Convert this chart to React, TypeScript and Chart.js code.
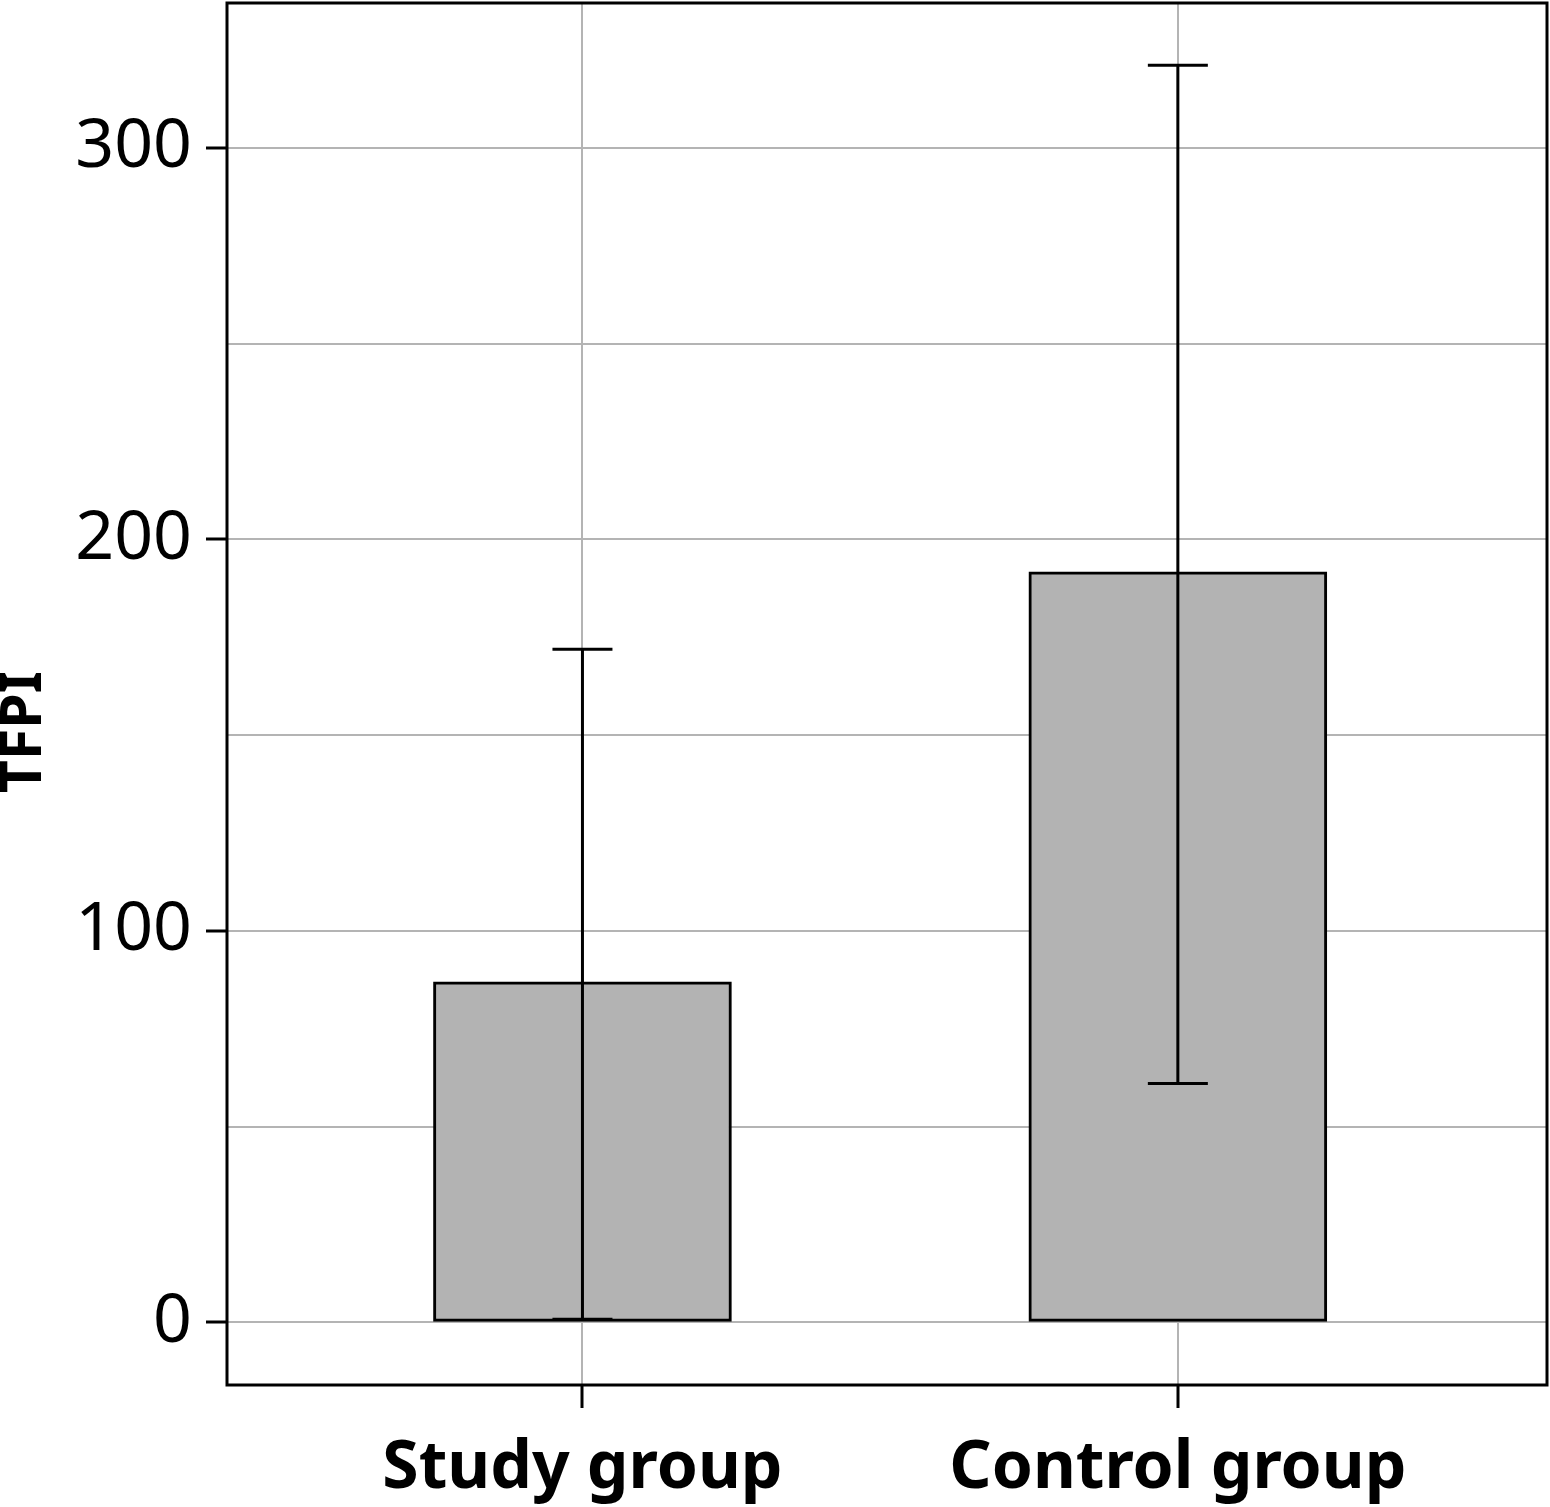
import React, { useEffect, useRef } from "react";
import { Chart, registerables } from "chart.js";

Chart.register(...registerables);

const categories = ["Study group", "Control group"];
const positions = [1, 2];
const means = [87.0, 191.7];
const errLow = [0.8, 61.0];
const errHigh = [171.9, 321.1];
const yTicksLabeled = [0, 100, 200, 300];
const yTitle = "TFPI";

const errorBarPlugin = {
  id: "errorBars",
  afterDatasetsDraw(chart: any) {
    const { ctx, scales } = chart;
    const xs = scales.x;
    const ys = scales.y;
    ctx.save();
    ctx.strokeStyle = "#000";
    ctx.lineWidth = 3;
    positions.forEach((p, i) => {
      const x = xs.getPixelForValue(p);
      const yH = ys.getPixelForValue(errHigh[i]);
      const yL = ys.getPixelForValue(errLow[i]);
      const cap = 30;
      ctx.beginPath();
      ctx.moveTo(x, yH);
      ctx.lineTo(x, yL);
      ctx.moveTo(x - cap, yH);
      ctx.lineTo(x + cap, yH);
      ctx.moveTo(x - cap, yL);
      ctx.lineTo(x + cap, yL);
      ctx.stroke();
    });
    ctx.restore();
  },
};

const framePlugin = {
  id: "frame",
  afterDraw(chart: any) {
    const { ctx, chartArea } = chart;
    ctx.save();
    ctx.strokeStyle = "#000";
    ctx.lineWidth = 3;
    ctx.strokeRect(
      chartArea.left,
      chartArea.top,
      chartArea.right - chartArea.left,
      chartArea.bottom - chartArea.top
    );
    // y-axis title
    const cy = (chartArea.top + chartArea.bottom) / 2 + 38;
    ctx.translate(25, cy);
    ctx.rotate(-Math.PI / 2);
    ctx.font = "bold 57px 'Noto Sans'";
    ctx.fillStyle = "#000";
    ctx.textAlign = "center";
    ctx.textBaseline = "middle";
    ctx.fillText(yTitle, 0, 0);
    ctx.restore();
  },
};

export default function App() {
  const ref = useRef<HTMLCanvasElement | null>(null);
  useEffect(() => {
    document.body.style.margin = "0";
    const canvas = ref.current!;
    const chart = new Chart(canvas, {
      type: "bar",
      data: {
        datasets: [
          {
            data: positions.map((p, i) => ({ x: p, y: means[i] })),
            backgroundColor: "#b3b3b3",
            borderColor: "#000",
            borderWidth: 3,
            borderSkipped: false,
            barThickness: 298,
          } as any,
        ],
      },
      options: {
        responsive: false,
        animation: false,
        devicePixelRatio: 1,
        layout: { padding: { top: 3, right: 3, left: 0, bottom: 0 } },
        plugins: {
          legend: { display: false },
          tooltip: { enabled: false },
        },
        scales: {
          x: {
            type: "linear",
            offset: false,
            min: 0.403,
            max: 2.62,
            afterFit: (s: any) => {
              s.height = 122;
              s.paddingLeft = 0;
              s.paddingRight = 0;
            },
            ticks: {
              stepSize: 1,
              includeBounds: false,
              autoSkip: false,
              maxRotation: 0,
              padding: 22,
              color: "#000",
              font: { family: "'Noto Sans'", size: 66, weight: "bold" },
              callback: (v: any) => {
                const i = positions.indexOf(Number(v));
                return i >= 0 ? categories[i] : "";
              },
            },
            grid: {
              offset: false,
              color: "#b4b4b4",
              lineWidth: 2,
              tickLength: 23,
              tickColor: "#000",
              tickWidth: 3,
            },
            border: { display: false },
          },
          y: {
            type: "linear",
            min: -16,
            max: 337,
            afterFit: (s: any) => {
              s.width = 227;
              s.paddingTop = 0;
              s.paddingBottom = 0;
            },
            ticks: {
              stepSize: 50,
              includeBounds: false,
              autoSkip: false,
              padding: 14,
              color: "#000",
              font: { family: "'Noto Sans'", size: 68 },
              callback: (v: any) =>
                yTicksLabeled.includes(Number(v)) ? String(v) : "",
            },
            grid: {
              color: "#b4b4b4",
              lineWidth: 2,
              tickLength: 21,
              tickWidth: 3,
              tickColor: (ctx: any) =>
                yTicksLabeled.includes(ctx.tick?.value) ? "#000" : "rgba(0,0,0,0)",
            },
            border: { display: false },
          },
        },
      } as any,
      plugins: [errorBarPlugin, framePlugin],
    });
    return () => chart.destroy();
  }, []);
  return (
    <div style={{ width: 1550, height: 1507, background: "#fff" }}>
      <canvas ref={ref} width={1550} height={1507} style={{ display: "block" }} />
    </div>
  );
}
